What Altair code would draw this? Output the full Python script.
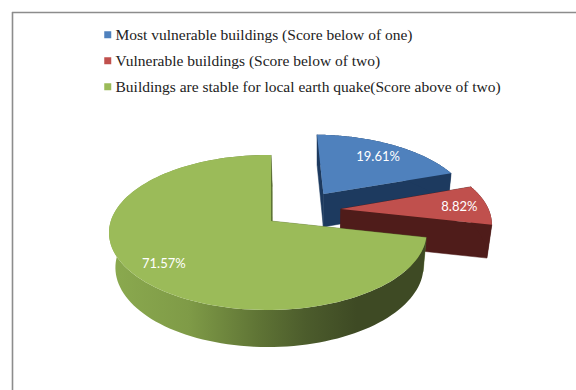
import math
import altair as alt

# Survey result: share of buildings per vulnerability class
categories = [
    "Most vulnerable buildings (Score below of one)",
    "Vulnerable buildings (Score below of two)",
    "Buildings are stable for local earth quake(Score above of two)",
]
shares = [19.61, 8.82, 71.57]
share_labels = ["19.61%", "8.82%", "71.57%"]
top_colors = ["#4f81bd", "#c0504d", "#9bbb59"]
wall_colors = ["#1d3a5f", "#4f1c1a", "#5f7534"]

# Exploded offset of each slice on the pie plane, and how far out its label sits
explode = [(0.355, 0.38), (0.46, 0.165), (0.0, 0.0)]
label_reach = [0.76, 0.81, 0.8]

# Perspective camera for the tilted pie
ORIGIN_X, ORIGIN_Y = 271.0, 221.0
SCALE_X, SCALE_Y = 157.0, 75.8
TILT_Y, TILT_X, TILT_Z = 0.148, 0.02, 0.03
DROP_Y, DROP_X = 35.3, 1.5


def project(px, py, floor=False):
    """Project a point of the pie plane to the page; floor selects the underside."""
    z = 1.0 if floor else 0.0
    d = 1 + TILT_Y * py + TILT_X * px + TILT_Z * z
    return [
        ORIGIN_X + (SCALE_X * px + DROP_X * z) / d,
        ORIGIN_Y - (SCALE_Y * py - DROP_Y * z) / d,
    ]


def rim(offset, a0, a1, steps=120):
    ox, oy = offset
    angles = [a0 + (a1 - a0) * i / steps for i in range(steps + 1)]
    return [(ox + math.sin(a), oy + math.cos(a)) for a in angles]


def feature(ring, name):
    ring = ring + [ring[0]]
    return {
        "type": "Feature",
        "properties": {"name": name},
        "geometry": {"type": "Polygon", "coordinates": [ring]},
    }


def shape_layer(features, **mark_args):
    return alt.Chart(alt.Data(values=features)).mark_geoshape(**mark_args).project(
        type="identity", scale=1, translate=[0, 0]
    )


green_wall = alt.Gradient(
    gradient="linear",
    x1=0, x2=1, y1=0, y2=0,
    stops=[
        alt.GradientStop(color="#8baa4f", offset=0.0),
        alt.GradientStop(color="#7f9b47", offset=0.25),
        alt.GradientStop(color="#5f7435", offset=0.47),
        alt.GradientStop(color="#4c5c2c", offset=0.62),
        alt.GradientStop(color="#3e4a24", offset=0.78),
        alt.GradientStop(color="#3e4a24", offset=1.0),
    ],
)

color_scale = alt.Scale(domain=categories, range=top_colors)
legend = alt.Legend(
    title=None,
    orient="none",
    legendX=100,
    legendY=27,
    symbolType="square",
    symbolSize=49,
    symbolStrokeWidth=0,
    labelFont="Liberation Serif",
    labelFontSize=15.5,
    labelColor="#222222",
    labelLimit=500,
    labelOffset=0,
    rowPadding=9,
)

layers = [
    alt.Chart(alt.Data(values=[{"k": 0}])).mark_rule(color="#8c8c8c", strokeWidth=1.6).encode(
        x=alt.value(12), x2=alt.value(576), y=alt.value(12.5)
    ),
    alt.Chart(alt.Data(values=[{"k": 0}])).mark_rule(color="#8c8c8c", strokeWidth=1.6).encode(
        x=alt.value(12.5), y=alt.value(12), y2=alt.value(390)
    ),
]

labels = []
start = 0.0
for i, share in enumerate(shares):
    a0 = start / sum(shares) * 2 * math.pi
    start += share
    a1 = start / sum(shares) * 2 * math.pi
    ox, oy = explode[i]
    edge = rim(explode[i], a0, a1)

    top_ring = [project(ox, oy)] + [project(*p) for p in edge]
    arc_ring = [project(*p) for p in edge] + [project(*p, floor=True) for p in reversed(edge)]
    cuts = [
        feature(
            [project(ox, oy), project(*p), project(*p, floor=True), project(ox, oy, floor=True)],
            categories[i],
        )
        for p in (edge[0], edge[-1])
    ]

    layers.append(shape_layer(cuts, fill=wall_colors[i], stroke=wall_colors[i], strokeWidth=0.5))
    layers.append(
        shape_layer(
            [feature(arc_ring, categories[i])],
            fill=green_wall if i == 2 else wall_colors[i],
        )
    )
    layers.append(
        shape_layer([feature(top_ring, categories[i])]).encode(
            color=alt.Color("properties.name:N", scale=color_scale, legend=legend)
        )
    )

    mid = (a0 + a1) / 2
    lx, ly = project(ox + label_reach[i] * math.sin(mid), oy + label_reach[i] * math.cos(mid))
    labels.append({"px": lx, "py": ly + 1, "text": share_labels[i]})

layers.append(
    alt.Chart(alt.Data(values=labels))
    .mark_text(font="Lato", fontSize=13, color="#ffffff", align="center", baseline="middle")
    .encode(
        x=alt.X("px:Q", scale=None, axis=None),
        y=alt.Y("py:Q", scale=None, axis=None),
        text="text:N",
    )
)

chart = (
    alt.layer(*layers)
    .properties(width=576, height=390, padding=0, background="#ffffff", autosize=alt.AutoSizeParams(type="none"))
    .configure_view(stroke=None)
)

chart.save("out.html", embed_options={"renderer": "svg", "actions": False})
